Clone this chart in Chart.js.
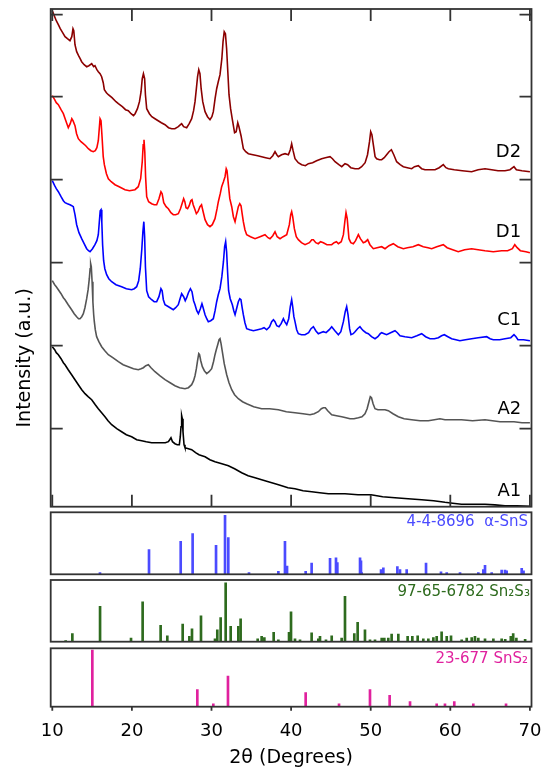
<!DOCTYPE html>
<html>
<head>
<meta charset="utf-8">
<script src="https://cdn.jsdelivr.net/npm/chart.js@4/dist/chart.umd.min.js"></script>
<style>
  html, body { margin: 0; padding: 0; background: #fff; }
</style>
</head>
<body>
<canvas id="xrd" width="554" height="770"></canvas>
<script>
// measured patterns: [2theta, intensity (a.u., stacked as plotted)]
const d2 = [[10.0,496],[10.3,490],[10.5,486],[10.76,482],[11.0,478],[11.3,474],[11.6,470],[11.9,468],[12.22,466],[12.45,470],[12.6,478],[12.7,476],[12.85,462],[13.06,455],[13.3,451],[13.5,448],[13.69,445],[14.0,442],[14.32,440],[14.6,441],[14.95,443],[15.2,440],[15.36,441],[15.6,437],[15.78,435],[16.0,433],[16.2,430],[16.4,424],[16.54,417],[16.8,414],[17.04,412],[17.5,409],[18.0,405],[18.3,403],[18.8,400],[19.2,397],[19.55,396],[19.9,393],[20.2,391],[20.4,393],[20.7,398],[20.95,405],[21.15,415],[21.3,428],[21.45,433],[21.6,428],[21.7,412],[21.86,398],[22.2,393],[22.5,390],[22.9,388],[23.3,386],[23.7,384],[24.16,382],[24.6,379],[25.0,378],[25.4,378],[25.83,380],[26.1,382],[26.25,383],[26.5,380],[26.88,379],[27.2,383],[27.51,388],[27.75,396],[27.93,405],[28.1,418],[28.25,430],[28.4,437],[28.55,433],[28.7,418],[28.9,405],[29.19,395],[29.5,390],[29.81,387],[30.05,390],[30.23,395],[30.45,408],[30.65,418],[30.85,425],[31.07,432],[31.3,448],[31.45,465],[31.6,475],[31.75,473],[31.9,458],[32.05,435],[32.2,412],[32.4,398],[32.6,388],[32.9,374],[33.1,375],[33.3,384],[33.45,380],[33.71,371],[34.0,358],[34.3,355],[34.63,353],[35.2,352],[35.8,351],[36.3,350],[36.8,349],[37.35,348],[37.7,351],[37.98,355],[38.2,352],[38.4,350],[38.8,352],[39.24,353],[39.66,352],[39.9,357],[40.07,363],[40.25,356],[40.49,348],[40.9,344],[41.33,342],[41.8,341],[42.17,343],[42.7,344],[43.2,346],[43.84,348],[44.3,349],[44.89,350],[45.2,348],[45.52,345],[46.0,342],[46.36,340],[46.77,343],[47.1,342],[47.5,339],[48.03,338],[48.5,338],[48.86,340],[49.3,344],[49.6,352],[49.85,365],[50.0,375],[50.15,372],[50.33,362],[50.55,350],[50.75,348],[51.1,347],[51.38,347],[51.7,349],[52.0,352],[52.3,355],[52.6,357],[52.9,352],[53.26,345],[53.7,342],[54.1,340],[54.6,339],[55.15,338],[55.5,340],[55.98,341],[56.4,338],[56.82,337],[57.4,337],[58.08,337],[58.6,339],[59.12,342],[59.45,339],[59.75,338],[60.5,337],[61.5,336],[62.68,335],[63.5,337],[64.36,338],[65.2,337],[66.0,336],[66.87,336],[67.5,337],[68.0,340],[68.3,337],[69.0,336],[70.0,335]]
const d1 = [[10.0,411],[10.3,407],[10.5,404],[10.76,402],[11.1,397],[11.39,393],[11.7,386],[12.01,379],[12.25,383],[12.45,388],[12.6,386],[12.85,381],[13.05,373],[13.27,368],[13.6,365],[13.9,363],[14.2,361],[14.53,358],[14.85,356],[15.15,355],[15.4,356],[15.6,359],[15.78,366],[15.9,378],[16.0,388],[16.12,386],[16.25,370],[16.4,350],[16.54,342],[16.8,333],[17.04,328],[17.4,325],[17.88,322],[18.4,320],[19.13,317],[19.7,316],[20.39,317],[20.8,320],[21.1,328],[21.3,345],[21.42,362],[21.52,367],[21.62,355],[21.72,330],[21.86,310],[22.1,305],[22.48,303],[22.8,302],[23.11,302],[23.4,308],[23.65,315],[23.8,313],[24.0,304],[24.3,300],[24.58,298],[24.9,294],[25.2,292],[25.5,292],[25.83,293],[26.1,298],[26.3,303],[26.5,308],[26.65,305],[26.8,299],[27.0,298],[27.2,301],[27.4,306],[27.55,307],[27.7,302],[27.93,297],[28.1,293],[28.3,295],[28.55,300],[28.75,302],[28.95,295],[29.19,287],[29.5,282],[29.81,280],[30.1,282],[30.44,288],[30.7,298],[30.86,305],[31.1,313],[31.28,320],[31.5,325],[31.7,330],[31.85,338],[31.95,336],[32.12,322],[32.3,308],[32.54,300],[32.75,290],[32.96,285],[33.15,292],[33.37,300],[33.55,303],[33.71,301],[33.85,293],[34.0,285],[34.2,277],[34.42,272],[34.9,270],[35.47,268],[36.1,270],[36.72,272],[37.1,269],[37.35,268],[37.7,271],[37.98,275],[38.25,270],[38.61,268],[39.0,270],[39.45,272],[39.78,282],[39.95,292],[40.07,295],[40.2,290],[40.41,278],[40.65,270],[40.91,267],[41.3,264],[41.75,262],[42.3,264],[42.6,267],[42.8,267],[43.1,264],[43.42,263],[43.7,265],[44.05,264],[44.5,262],[45.1,262],[45.4,264],[45.7,265],[45.94,263],[46.3,265],[46.57,272],[46.75,285],[46.9,294],[47.05,288],[47.27,268],[47.5,264],[47.82,263],[48.1,266],[48.45,272],[48.7,268],[49.07,264],[49.35,265],[49.62,267],[49.9,262],[50.33,258],[50.8,259],[51.38,260],[51.8,258],[52.3,261],[52.84,263],[53.4,260],[54.1,258],[54.6,259],[55.3,260],[55.98,262],[56.6,260],[57.2,259],[57.66,258],[58.3,260],[59.12,262],[59.6,259],[60.3,257],[61.0,255],[61.8,257],[62.68,258],[63.5,257],[64.36,256],[65.4,255],[66.45,256],[67.2,256],[67.8,258],[68.1,262],[68.4,259],[68.8,256],[69.5,255],[70.0,254]]
const c1 = [[10.0,326],[10.3,321],[10.5,318],[10.76,315],[11.1,310],[11.39,306],[11.6,304],[11.9,303],[12.22,302],[12.45,301],[12.64,300],[12.85,292],[13.06,282],[13.35,274],[13.69,268],[14.0,263],[14.32,258],[14.55,256],[14.74,255],[15.05,258],[15.36,262],[15.6,266],[15.78,272],[15.9,284],[16.02,296],[16.12,297],[16.22,285],[16.32,262],[16.45,246],[16.6,238],[16.83,232],[17.1,228],[17.46,225],[18.0,222],[18.71,220],[19.3,218],[19.97,217],[20.3,218],[20.6,220],[20.85,226],[21.05,238],[21.25,258],[21.38,275],[21.5,285],[21.6,270],[21.7,240],[21.86,216],[22.1,210],[22.48,207],[22.8,205],[23.11,205],[23.4,210],[23.65,218],[23.8,216],[23.95,207],[24.16,202],[24.6,200],[25.2,197],[25.5,199],[25.83,202],[26.05,208],[26.25,213],[26.5,210],[26.7,206],[26.88,209],[27.1,214],[27.35,218],[27.55,215],[27.75,206],[27.93,202],[28.15,196],[28.35,193],[28.6,198],[28.8,203],[28.95,199],[29.19,192],[29.4,188],[29.6,185],[29.9,186],[30.23,188],[30.45,196],[30.65,205],[30.85,212],[31.07,218],[31.3,230],[31.5,245],[31.65,260],[31.78,265],[31.9,255],[32.02,235],[32.15,216],[32.35,208],[32.62,202],[32.8,196],[32.96,192],[33.15,198],[33.37,205],[33.55,208],[33.7,207],[33.85,199],[34.0,192],[34.2,184],[34.42,178],[34.8,177],[35.26,176],[35.8,177],[36.3,178],[36.6,179],[36.93,177],[37.3,180],[37.56,185],[37.78,187],[37.98,185],[38.2,181],[38.48,180],[38.75,183],[39.03,188],[39.2,185],[39.45,182],[39.7,188],[39.9,200],[40.07,207],[40.2,200],[40.35,190],[40.49,185],[40.7,177],[40.91,173],[41.3,172],[41.75,172],[42.2,174],[42.5,178],[42.8,180],[43.1,176],[43.42,173],[43.7,174],[44.05,175],[44.4,174],[44.8,177],[45.1,180],[45.5,176],[45.94,172],[46.25,175],[46.57,185],[46.8,195],[46.98,200],[47.15,192],[47.35,178],[47.52,172],[47.8,173],[48.03,175],[48.35,178],[48.65,180],[48.85,178],[49.07,176],[49.4,174],[49.7,173],[50.1,170],[50.54,168],[50.9,170],[51.2,173],[51.38,174],[51.7,173],[52.0,172],[52.5,174],[53.05,176],[53.35,174],[53.68,171],[54.3,170],[55.15,169],[55.8,171],[56.4,173],[56.9,170],[57.45,168],[58.0,168],[58.5,169],[58.9,171],[59.25,172],[59.7,170],[60.17,168],[60.7,167],[61.2,166],[61.9,167],[62.68,168],[63.5,169],[64.57,170],[65.0,168],[65.4,167],[66.2,167],[66.87,168],[67.6,169],[68.0,172],[68.25,170],[68.5,167],[69.2,167],[70.0,166]]
const a2 = [[10.0,226],[10.3,222],[10.5,220],[10.76,217],[11.1,213],[11.39,209],[11.6,207],[12.0,202],[12.43,197],[12.75,193],[13.06,190],[13.3,188],[13.48,188],[13.7,190],[13.9,193],[14.1,199],[14.32,208],[14.5,217],[14.65,228],[14.75,238],[14.82,243],[14.9,240],[15.0,225],[15.1,205],[15.2,192],[15.28,185],[15.4,177],[15.57,170],[15.85,165],[16.2,160],[16.6,156],[17.04,152],[17.6,149],[18.3,145],[18.9,142],[19.55,140],[20.2,138],[20.81,137],[21.15,138],[21.44,139],[21.75,141],[22.07,142],[22.4,139],[22.9,135],[23.5,131],[24.16,127],[24.8,124],[25.41,121],[26.0,119],[26.67,118],[27.1,119],[27.51,122],[27.75,126],[27.93,131],[28.1,138],[28.25,146],[28.4,153],[28.5,152],[28.65,146],[28.85,140],[29.1,136],[29.4,133],[29.7,135],[30.02,138],[30.25,145],[30.44,152],[30.6,157],[30.78,162],[30.95,167],[31.07,168],[31.2,163],[31.36,155],[31.6,143],[31.91,132],[32.2,124],[32.54,117],[32.9,112],[33.37,108],[33.9,105],[34.42,103],[35.3,100],[36.3,98],[37.3,98],[38.4,97],[39.4,95],[40.49,94],[41.5,93],[42.38,92],[42.9,93],[43.42,95],[43.8,98],[44.05,99],[44.3,99],[44.6,96],[45.1,92],[45.7,91],[46.36,90],[46.9,89],[47.4,88],[47.9,88],[48.45,89],[48.9,90],[49.28,93],[49.55,98],[49.78,105],[49.95,110],[50.1,109],[50.3,103],[50.54,98],[50.9,97],[51.38,97],[51.8,97],[52.21,96],[52.8,93],[53.47,90],[54.2,88],[55.15,87],[56.2,86],[57.24,86],[58.0,87],[58.7,88],[59.33,87],[60.3,87],[61.4,87],[62.8,86],[64.36,87],[65.3,86],[66.24,85],[67.1,85],[68.0,85],[69.0,84],[70.0,84]]
const a1 = [[10.0,160],[10.3,157],[10.5,154],[10.76,152],[11.1,148],[11.39,144],[11.6,142],[12.0,137],[12.43,132],[12.85,127],[13.27,122],[13.7,117],[14.11,113],[14.5,110],[14.95,107],[15.4,102],[15.78,98],[16.2,94],[16.62,90],[17.0,86],[17.46,82],[18.1,78],[18.71,75],[19.3,72],[19.97,70],[20.6,67],[21.23,66],[21.8,65],[22.48,64],[23.1,64],[23.74,64],[24.2,64],[24.58,65],[24.75,67],[24.91,69],[25.1,65],[25.41,63],[25.7,62],[25.96,62],[26.08,70],[26.17,80],[26.25,91],[26.33,88],[26.42,75],[26.55,62],[26.67,59],[27.1,58],[27.51,57],[28.0,54],[28.43,52],[28.8,51],[29.19,50],[29.8,47],[30.44,45],[31.3,43],[32.12,41],[32.9,38],[33.79,34],[34.6,31],[35.47,29],[36.3,27],[37.14,25],[38.0,23],[38.82,21],[39.6,19],[40.49,18],[41.5,16],[42.59,15],[43.6,14],[44.68,13],[45.7,13],[46.77,13],[48.4,12],[50.04,12],[51.5,10],[53.05,9],[54.7,8],[56.4,7],[57.9,6],[59.33,4.4],[60.3,3.5],[61.4,2.4],[62.9,2.4],[64.36,2.4],[65.6,1.8],[66.87,1],[68.4,0.8],[70.0,0.5]]

// reference cards: [2theta, relative intensity]
const snsSticks = [[15.99,3],[22.15,42],[26.13,56],[27.63,69],[30.57,49],[31.7,100],[32.11,62],[34.71,3],[38.4,5],[39.23,56],[39.49,14],[41.83,5],[42.58,19],[44.89,27],[45.64,28],[45.81,20],[48.66,28],[48.78,23],[48.86,3],[51.3,8],[51.59,11],[53.35,13],[53.68,8],[54.52,8],[56.95,19],[58.83,4],[59.55,3],[61.22,3],[63.52,3],[64.15,8],[64.36,15],[65.2,3],[66.45,7],[66.87,7],[67.08,6],[68.97,10],[69.2,6]]
const sn2s3Sticks = [[11.68,2],[12.52,14],[16.0,60],[19.89,6],[21.35,68],[23.61,28],[24.45,10],[26.38,30],[27.22,9],[27.55,22],[28.68,44],[30.44,5],[30.73,20],[31.15,41],[31.78,100],[32.41,26],[33.37,26],[33.66,39],[35.8,5],[36.3,9],[36.64,7],[37.81,16],[38.4,3],[39.74,16],[39.99,51],[40.49,5],[41.12,3],[42.58,15],[43.42,5],[43.63,9],[44.38,3],[45.1,10],[46.35,6],[46.77,77],[47.94,14],[48.36,33],[49.28,20],[49.91,3],[50.54,3],[51.38,6],[51.71,6],[52.21,6],[52.63,13],[53.47,13],[54.64,9],[55.23,9],[55.9,10],[56.61,5],[57.24,5],[57.87,7],[58.29,9],[58.91,17],[59.55,9],[60.09,10],[61.43,3],[62.06,6],[62.69,7],[63.1,9],[63.52,6],[64.36,5],[65.41,5],[66.45,5],[66.9,4],[67.6,9],[67.9,14],[68.3,6],[69.4,4]]
const sns2Sticks = [[15.03,100],[28.22,30],[30.23,5],[32.07,54],[41.83,25],[46.02,5],[49.91,30],[52.38,20],[54.94,9],[58.29,5],[59.33,5],[60.5,9],[62.89,5],[67.0,5]]

const sampleNames = ['D2', 'D1', 'C1', 'A2', 'A1']
const sampleColors = ['#8b0000', '#ff0000', '#0000ff', '#555555', '#000000']
const sampleLabelY = [354, 274, 186, 97, 15]
const cardNames = ['4-4-8696  α-SnS', '97-65-6782 Sn₂S₃', '23-677 SnS₂']
const cardColors = ['#4b4bff', '#2e6b1e', '#e0219e']
const cardAxes = ['ySnS', 'ySn2S3', 'ySnS2']
const cardLabelX = [69.76, 70.0, 69.76]
const cardLabelY = [88, 85, 84]
const xTicks = [10, 20, 30, 40, 50, 60, 70]
const yTicks = [78, 161, 244, 327, 410, 492]

;(() => {
  'use strict'

  Chart.defaults.font.family = '"DejaVu Sans", sans-serif'
  Chart.defaults.color = '#000'

  const traces = [d2, d1, c1, a2, a1]
  const cards = [snsSticks, sn2s3Sticks, sns2Sticks]

  const datasets = traces.map((t, i) => ({
    type: 'line',
    label: sampleNames[i],
    data: t.map(p => ({ x: p[0], y: p[1] })),
    borderColor: sampleColors[i],
    borderWidth: 1.6,
    pointRadius: 0,
    tension: 0,
    yAxisID: 'y'
  })).concat(cards.map((c, i) => ({
    type: 'bar',
    label: cardNames[i],
    data: c.map(p => ({ x: p[0], y: p[1] })),
    backgroundColor: cardColors[i],
    barThickness: 2,
    grouped: false,
    yAxisID: cardAxes[i]
  })))

  // frames, inward ticks and the text labels
  const framePlugin = {
    id: 'frames',
    afterDatasetsDraw(chart) {
      const { ctx, scales } = chart
      const x = scales.x
      const y = scales.y
      ctx.save()
      ctx.strokeStyle = '#333'
      ctx.lineWidth = 1.8
      ctx.strokeRect(x.left, y.top, x.right - x.left, y.bottom - y.top)
      ctx.beginPath()
      xTicks.forEach(v => {
        const px = x.getPixelForValue(v)
        ctx.moveTo(px, y.top); ctx.lineTo(px, y.top + 12)
        ctx.moveTo(px, y.bottom); ctx.lineTo(px, y.bottom - 12)
      })
      yTicks.forEach(v => {
        const py = y.getPixelForValue(v)
        ctx.moveTo(x.left, py); ctx.lineTo(x.left + 12, py)
        ctx.moveTo(x.right, py); ctx.lineTo(x.right - 12, py)
      })
      ctx.stroke()

      cardAxes.forEach(id => {
        const s = scales[id]
        ctx.strokeRect(x.left, s.top, x.right - x.left, s.bottom - s.top)
      })
      const last = scales.ySnS2
      ctx.beginPath()
      xTicks.forEach(v => {
        const px = x.getPixelForValue(v)
        ctx.moveTo(px, last.bottom); ctx.lineTo(px, last.bottom + 4)
      })
      ctx.stroke()

      ctx.textAlign = 'right'
      ctx.textBaseline = 'middle'
      ctx.font = '18px "DejaVu Sans"'
      ctx.fillStyle = '#000'
      sampleNames.forEach((n, i) => {
        ctx.fillText(n, x.getPixelForValue(68.9), y.getPixelForValue(sampleLabelY[i]))
      })
      ctx.font = '15px "DejaVu Sans"'
      cardNames.forEach((n, i) => {
        const s = scales[cardAxes[i]]
        ctx.fillStyle = cardColors[i]
        ctx.fillText(n, x.getPixelForValue(cardLabelX[i]), s.getPixelForValue(cardLabelY[i]))
      })
      ctx.restore()
    }
  }

  const hidden = (weight, stackWeight, max) => ({
    type: 'linear',
    position: 'left',
    display: false,
    stack: 'fig',
    weight: weight,
    stackWeight: stackWeight,
    min: 0,
    max: max
  })

  new Chart(document.getElementById('xrd'), {
    type: 'line',
    data: { datasets },
    plugins: [framePlugin],
    options: {
      responsive: false,
      animation: false,
      devicePixelRatio: 1,
      layout: { padding: { top: 9, right: 22.5, bottom: 0, left: 0 } },
      plugins: {
        legend: { display: false },
        tooltip: { enabled: false }
      },
      scales: {
        x: {
          type: 'linear',
          min: 9.8,
          max: 70.2,
          offset: false,
          grid: { display: false, offset: false, drawTicks: true, tickLength: 10 },
          border: { display: false },
          ticks: { padding: 4, font: { size: 18 }, color: '#000' },
          afterBuildTicks: s => { s.ticks = xTicks.map(v => ({ value: v })) },
          afterFit: s => { s.height = 63.3 },
          title: {
            display: true,
            text: '2θ (Degrees)',
            font: { size: 19 },
            color: '#000',
            padding: { top: 0, bottom: 1 }
          }
        },
        yTitle: {
          type: 'linear',
          position: 'left',
          weight: 20,
          grid: { display: false, drawTicks: false },
          border: { display: false },
          ticks: { display: false },
          afterFit: s => { s.width = 50.7 },
          title: {
            display: true,
            text: 'Intensity (a.u.)',
            font: { size: 19 },
            color: '#000',
            padding: { top: 13.6, bottom: 0 }
          }
        },
        y: hidden(7, 497.7, 497.7),
        yGap1: hidden(6, 5.6, 1),
        ySnS: hidden(5, 62, 105),
        yGap2: hidden(4, 5.7, 1),
        ySn2S3: hidden(3, 61.7, 105),
        yGap3: hidden(2, 6.6, 1),
        ySnS2: hidden(1, 58.4, 103)
      }
    }
  })
})()
</script>
</body>
</html>
